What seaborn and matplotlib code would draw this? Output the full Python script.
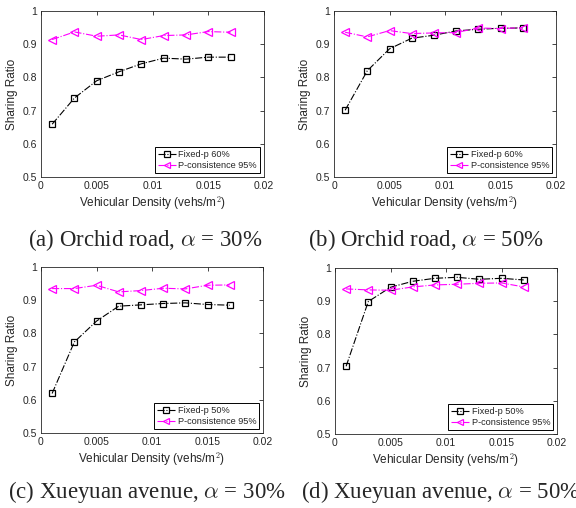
import numpy as np
import pandas as pd
import matplotlib
matplotlib.use("Agg")
import matplotlib.pyplot as plt
import seaborn as sns

density = [0.001, 0.003, 0.005, 0.007, 0.009, 0.011, 0.013, 0.015, 0.017]

a_fixed = [0.659, 0.738, 0.790, 0.817, 0.841, 0.858, 0.855, 0.861, 0.861]
a_pcons = [0.914, 0.937, 0.924, 0.928, 0.914, 0.926, 0.928, 0.938, 0.936]
b_fixed = [0.701, 0.820, 0.886, 0.918, 0.927, 0.940, 0.945, 0.948, 0.949]
b_pcons = [0.936, 0.922, 0.941, 0.932, 0.934, 0.935, 0.949, 0.947, 0.950]
c_fixed = [0.619, 0.774, 0.837, 0.882, 0.886, 0.890, 0.892, 0.887, 0.885]
c_pcons = [0.935, 0.935, 0.945, 0.925, 0.929, 0.936, 0.934, 0.945, 0.946]
d_fixed = [0.704, 0.899, 0.942, 0.960, 0.969, 0.972, 0.966, 0.969, 0.964]
d_pcons = [0.937, 0.934, 0.933, 0.943, 0.949, 0.951, 0.954, 0.955, 0.943]

fixed_labels = ["Fixed-p 60%", "Fixed-p 60%", "Fixed-p 50%", "Fixed-p 50%"]
pcons_label = "P-consistence 95%"
captions = [r"(a) Orchid road, $\alpha$ = 30%",
            r"(b) Orchid road, $\alpha$ = 50%",
            r"(c) Xueyuan avenue, $\alpha$ = 30%",
            r"(d) Xueyuan avenue, $\alpha$ = 50%"]
xticks = [0, 0.005, 0.01, 0.015, 0.02]
xtick_labels = ["0", "0.005", "0.01", "0.015", "0.02"]
yticks = [0.5, 0.6, 0.7, 0.8, 0.9, 1.0]
ytick_labels = ["0.5", "0.6", "0.7", "0.8", "0.9", "1"]

sns.set_style("white")
plt.rcParams["font.family"] = ["Liberation Sans", "DejaVu Sans"]
plt.rcParams["mathtext.fontset"] = "cm"

fig = plt.figure(figsize=(5.76, 5.08), dpi=100)
W, H = 576, 508
boxes = [(41, 11, 264, 177), (334, 11, 556, 177),
         (41, 267, 263, 433), (335, 268, 557, 434)]
data = [(a_fixed, a_pcons), (b_fixed, b_pcons), (c_fixed, c_pcons), (d_fixed, d_pcons)]
cap_pos = [(145, 240), (426, 240), (147, 492), (441, 492)]

axcol = "#262626"
for i, (box, (fx, pc)) in enumerate(zip(boxes, data)):
    l, t, r, b = box
    ax = fig.add_axes([l / W, (H - b) / H, (r - l) / W, (b - t) / H])
    df = pd.DataFrame({"x": density * 2,
                       "y": list(fx) + list(pc),
                       "s": [fixed_labels[i]] * len(fx) + [pcons_label] * len(pc)})
    sns.lineplot(data=df[df.s == fixed_labels[i]], x="x", y="y", ax=ax,
                 color="black", linestyle="-.", linewidth=0.8, marker="s",
                 markersize=5, markerfacecolor="none", markeredgecolor="black",
                 markeredgewidth=0.9, label=fixed_labels[i])
    sns.lineplot(data=df[df.s == pcons_label], x="x", y="y", ax=ax,
                 color="#ff00ff", linestyle="-.", linewidth=0.8, marker="<",
                 markersize=6, markerfacecolor="none", markeredgecolor="#ff00ff",
                 markeredgewidth=0.9, label=pcons_label)
    ax.set_xlim(0, 0.02)
    ax.set_ylim(0.5, 1.0)
    ax.set_xticks(xticks)
    ax.set_xticklabels(xtick_labels)
    ax.set_yticks(yticks)
    ax.set_yticklabels(ytick_labels)
    ax.tick_params(direction="in", top=True, right=True, length=3, width=0.6,
                   labelsize=7.5, colors=axcol, pad=3)
    for sp in ax.spines.values():
        sp.set_visible(True)
        sp.set_linewidth(0.6)
        sp.set_color(axcol)
    ax.set_xlabel("Vehicular Density (vehs/m$^2$)", fontsize=8.5, color=axcol, labelpad=2)
    ax.set_ylabel("Sharing Ratio", fontsize=8.5, color=axcol, labelpad=3)
    leg = ax.legend(loc="lower right", fontsize=6.6, frameon=True, fancybox=False,
                    borderpad=0.35, handlelength=1.9, handletextpad=0.3,
                    borderaxespad=0.4, labelspacing=0.25, markerscale=0.8)
    leg.get_frame().set_edgecolor("black")
    leg.get_frame().set_linewidth(0.7)
    leg.get_frame().set_alpha(1)
    cx, cy = cap_pos[i]
    fig.text(cx / W, 1 - cy / H, captions[i], ha="center", va="center",
             fontsize=16.5, family=["Liberation Serif"])

fig.savefig("out.png", dpi=100)
